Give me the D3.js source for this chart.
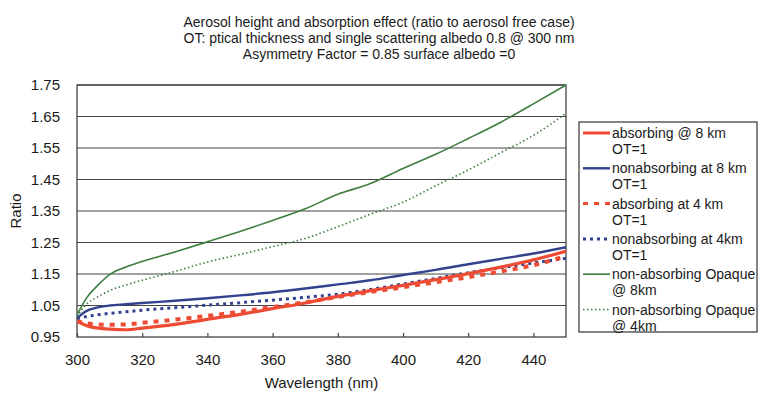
<!DOCTYPE html>
<html><head><meta charset="utf-8">
<script src="https://cdn.jsdelivr.net/npm/d3@7"></script>
<style>body{margin:0;background:#fff;} svg{display:block;font-family:"Liberation Sans",Arial,sans-serif;}</style>
</head><body>
<svg id="c" width="761" height="405"></svg>
<script>
const titleLines = ["Aerosol height and absorption effect (ratio to aerosol free case)",
  "OT: ptical thickness and single scattering albedo 0.8 @ 300 nm",
  "Asymmetry Factor = 0.85 surface albedo =0"];
const wavelengths = [300,303,306,310,315,320,330,340,350,360,370,380,390,400,410,420,430,440,450];
const absorbing8 =    [1.000,0.986,0.979,0.975,0.973,0.978,0.990,1.006,1.022,1.040,1.058,1.079,1.097,1.114,1.132,1.151,1.172,1.195,1.222];
const nonabsorbing8 = [1.010,1.033,1.043,1.050,1.054,1.058,1.065,1.073,1.082,1.092,1.104,1.117,1.130,1.147,1.163,1.181,1.198,1.215,1.235];
const absorbing4 =    [1.000,0.993,0.990,0.989,0.990,0.995,1.005,1.017,1.030,1.045,1.060,1.077,1.093,1.108,1.124,1.140,1.158,1.178,1.207];
const nonabsorbing4 = [1.008,1.015,1.020,1.025,1.030,1.035,1.043,1.051,1.059,1.067,1.076,1.086,1.101,1.118,1.136,1.154,1.170,1.185,1.200];
const opaque8 =       [1.020,1.075,1.110,1.148,1.172,1.190,1.220,1.252,1.285,1.320,1.357,1.403,1.437,1.485,1.530,1.580,1.632,1.690,1.750];
const opaque4 =       [1.015,1.055,1.075,1.097,1.115,1.130,1.158,1.188,1.212,1.237,1.263,1.300,1.340,1.378,1.430,1.480,1.535,1.590,1.660];
const yTicks = [0.95,1.05,1.15,1.25,1.35,1.45,1.55,1.65,1.75];
const xTicks = [300,320,340,360,380,400,420,440];
const seriesNames = [["absorbing @ 8 km","OT=1"],["nonabsorbing at 8 km","OT=1"],["absorbing at 4 km","OT=1"],
  ["nonabsorbing at 4km","OT=1"],["non-absorbing Opaque","@ 8km"],["non-absorbing Opaque","@ 4km"]];
const seriesValues = [absorbing8, nonabsorbing8, absorbing4, nonabsorbing4, opaque8, opaque4];

const styles = [
  {color:"#ee4b35", w:3.2, dash:null},
  {color:"#33418f", w:2.4, dash:null},
  {color:"#ee4b35", w:4, dash:"5,6"},
  {color:"#33418f", w:3, dash:"3,4"},
  {color:"#3d7e3f", w:1.6, dash:null},
  {color:"#3d7e3f", w:1.6, dash:"1.5,2.5"}
];

const svg = d3.select("#c");
const m = {l:77, r:566, t:85, b:337};
const x = d3.scaleLinear().domain([300,450]).range([m.l, m.r]);
const y = d3.scaleLinear().domain([0.95,1.75]).range([m.b, m.t]);

const tg = svg.append("g").attr("font-size", 14).attr("fill","#1a1a1a").attr("text-anchor","middle");
titleLines.forEach((t,i)=> tg.append("text").attr("x",379).attr("y",27+i*16).text(t));

// grid
svg.append("g").selectAll("line").data(yTicks.slice(1)).join("line")
  .attr("x1", m.l).attr("x2", m.r).attr("y1", d=>y(d)).attr("y2", d=>y(d))
  .attr("stroke","#444").attr("stroke-width",1.1);

// axes
const yAxis = d3.axisLeft(y).tickValues(yTicks).tickFormat(d3.format(".2f")).tickSize(0).tickPadding(17);
const ya = svg.append("g").attr("transform",`translate(${m.l},0)`).call(yAxis);
ya.select(".domain").remove();
ya.selectAll("text").attr("font-size",15).attr("fill","#1a1a1a").attr("font-family","Liberation Sans, Arial");

const xAxis = d3.axisBottom(x).tickValues(xTicks).tickFormat(d3.format("d")).tickSize(-4).tickPadding(17);
const xa = svg.append("g").attr("transform",`translate(0,${m.b})`).call(xAxis);
xa.select(".domain").remove();
xa.selectAll("line").attr("stroke","#444").attr("stroke-width",1.2);
xa.selectAll("text").attr("font-size",15).attr("fill","#1a1a1a").attr("font-family","Liberation Sans, Arial");

svg.append("rect").attr("x",m.l).attr("y",m.t).attr("width",m.r-m.l).attr("height",m.b-m.t)
  .attr("fill","none").attr("stroke","#444").attr("stroke-width",1.3);

svg.append("text").attr("x",(m.l+m.r)/2).attr("y",388).attr("text-anchor","middle").attr("font-size",15).attr("fill","#1a1a1a").text("Wavelength (nm)");
svg.append("text").attr("transform",`translate(21,${(m.t+m.b)/2}) rotate(-90)`).attr("text-anchor","middle").attr("font-size",15).attr("fill","#1a1a1a").text("Ratio");

// lines
const line = d3.line().x((d,i)=>x(wavelengths[i])).y(d=>y(d)).curve(d3.curveMonotoneX);
const clip = svg.append("clipPath").attr("id","cp").append("rect").attr("x",m.l).attr("y",m.t-3).attr("width",m.r-m.l).attr("height",m.b-m.t+6);
const order = [5,4,3,1,2,0];
order.forEach(i=>{
  const s = styles[i];
  svg.append("path").attr("d", line(seriesValues[i])).attr("fill","none")
    .attr("stroke", s.color).attr("stroke-width", s.w).attr("stroke-dasharray", s.dash)
    .attr("clip-path","url(#cp)");
});

// legend
const lg = svg.append("g");
lg.append("rect").attr("x",579).attr("y",122).attr("width",178).attr("height",210).attr("fill","#fff").attr("stroke","#333").attr("stroke-width",1.2);
seriesNames.forEach((nm,i)=>{
  const s = styles[i];
  const yy = 133 + i*35.3;
  lg.append("line").attr("x1",583).attr("x2",610).attr("y1",yy).attr("y2",yy)
    .attr("stroke",s.color).attr("stroke-width", Math.min(s.w,3)).attr("stroke-dasharray", s.dash);
  lg.append("text").attr("x",612).attr("y",yy+5).attr("font-size",14).attr("fill","#1a1a1a").text(nm[0]);
  lg.append("text").attr("x",612).attr("y",yy+21).attr("font-size",14).attr("fill","#1a1a1a").text(nm[1]);
});
</script>
</body></html>
